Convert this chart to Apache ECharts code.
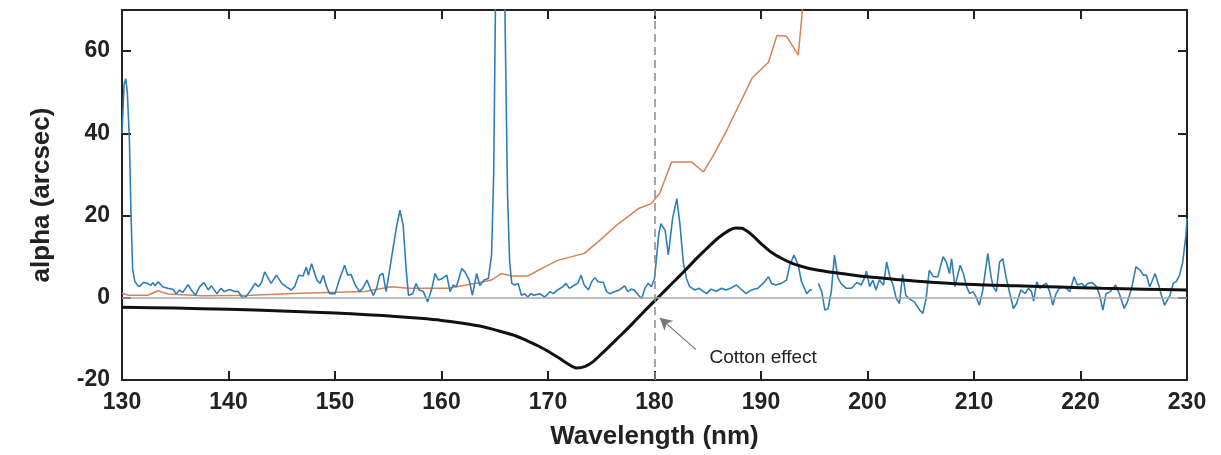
<!DOCTYPE html>
<html>
<head>
<meta charset="utf-8">
<script src="https://cdn.jsdelivr.net/npm/echarts@6/dist/echarts.min.js"></script>
<style>
  html, body { margin: 0; padding: 0; background: #fff; }
  #chart { width: 1221px; height: 455px; }
</style>
</head>
<body>
<div id="chart"></div>
<script>
// measured signal (blue); null = gap in the trace
var measWl = [130.0, 130.2, 130.35, 130.5, 130.7, 130.85, 131.0, 131.2, 131.5, 131.7, 132.0, 132.4, 132.7, 132.9, 133.1, 133.4, 133.8, 134.3, 134.8, 135.1, 135.4, 135.7, 136.2, 136.5, 136.9, 137.3, 137.7, 138.1, 138.4, 138.9, 139.3, 139.6, 140.1, 140.6, 140.9, 141.3, 141.7, 142.1, 142.5, 142.8, 143.1, 143.4, 143.7, 144.0, 144.5, 145.0, 145.4, 145.9, 146.2, 146.6, 147.0, 147.3, 147.5, 147.8, 148.3, 148.6, 148.9, 149.2, 149.5, 150.0, 150.4, 150.9, 151.2, 151.5, 151.9, 152.3, 152.6, 153.0, 153.3, 153.6, 153.9, 154.2, 154.5, 154.8, 155.1, 155.4, 155.8, 156.1, 156.4, 156.7, 156.9, 157.3, 157.6, 157.9, 158.3, 158.7, 159.1, 159.4, 159.7, 160.1, 160.5, 160.8, 161.1, 161.4, 161.9, 162.2, 162.6, 162.9, 163.3, 163.6, 164.0, 164.4, 164.7, 164.9, 165.1, 165.5, 165.9, 166.2, 166.4, 166.6, 166.9, 167.2, 167.5, 167.8, 168.1, 168.4, 168.7, 169.2, 169.7, 170.2, 170.5, 170.9, 171.4, 171.7, 172.0, 172.5, 172.8, 173.1, 173.4, 173.8, 174.1, 174.4, 174.7, 175.2, 175.5, 175.8, 176.3, 176.7, 177.2, 177.5, 177.8, 178.1, 178.5, 178.8, 179.1, 179.4, 179.7, 180.0, 180.2, 180.4, 180.6, 181.0, 181.3, 181.7, 182.1, 182.4, 182.7, 183.0, 183.3, 183.8, 184.2, 184.6, 184.9, 185.3, 185.8, 186.3, 186.7, 187.2, 187.7, 188.2, 188.6, 189.1, 189.7, 190.2, 190.7, 191.0, 191.4, 191.9, 192.4, 192.7, 193.1, 193.5, 193.8, 194.3, 194.6, 194.8, 195.1, 195.4, 195.7, 196.0, 196.3, 196.6, 196.9, 197.2, 197.5, 198.0, 198.5, 199.0, 199.4, 199.7, 199.9, 200.2, 200.5, 200.8, 201.1, 201.5, 201.8, 202.1, 202.4, 202.7, 203.0, 203.3, 203.6, 203.9, 204.4, 204.9, 205.2, 205.5, 205.8, 206.2, 206.6, 207.1, 207.4, 207.7, 207.9, 208.2, 208.7, 209.0, 209.3, 209.6, 209.9, 210.2, 210.5, 210.8, 211.3, 211.6, 211.8, 212.1, 212.4, 212.7, 213.0, 213.4, 213.7, 214.0, 214.4, 214.8, 215.1, 215.4, 215.6, 215.9, 216.2, 216.5, 216.8, 217.1, 217.4, 217.7, 218.0, 218.5, 219.0, 219.4, 219.7, 220.1, 220.4, 220.7, 221.1, 221.5, 221.8, 222.1, 222.4, 222.8, 223.3, 223.7, 224.1, 224.4, 224.8, 225.2, 225.6, 225.9, 226.2, 226.5, 226.7, 227.0, 227.3, 227.6, 227.9, 228.4, 228.7, 229.0, 229.3, 229.6, 229.9, 230.0];
var measAlpha = [40, 52, 53.3, 50, 38, 20, 7, 4, 2.9, 2.8, 3.7, 3.5, 3.0, 3.7, 2.9, 3.9, 2.7, 2.3, 2.0, 1.0, 1.9, 1.3, 3.2, 1.9, 0.6, 2.7, 3.7, 1.9, 2.9, 1.0, 2.3, 1.5, 2.0, 1.5, 1.6, 0, 0.4, 1.9, 3.5, 2.7, 3.7, 6.3, 4.9, 3.5, 5.5, 3.5, 2.7, 1.9, 2.7, 5.5, 5.3, 7.5, 5.5, 8.3, 4.3, 3.5, 5.5, 2.7, 1.0, 1.0, 4.3, 7.9, 5.5, 5.7, 3.1, 1.5, 2.3, 4.3, 2.3, 0.6, 2.3, 5.5, 5.9, 1.5, 6.3, 11.2, 17.6, 21.3, 17.6, 6.3, 0.6, 1.0, 3.5, 1.9, 1.5, -1.0, 2.3, 5.9, 4.3, 4.7, 5.5, 1.5, 3.1, 2.7, 7.1, 6.3, 4.3, 0.6, 5.9, 3.0, 4.3, 4.7, 10.4, 30, 80, 130, 80, 25, 8.7, 3.5, 3.1, 3.5, 0.6, 1.0, 0.2, 1.0, 0.6, 1.0, 0.2, 1.5, 1.0, 1.9, 2.7, 3.5, 2.3, 3.1, 3.5, 5.5, 3.1, 1.9, 3.9, 4.9, 3.9, 3.7, 1.5, 1.0, 1.5, 1.9, 2.9, 1.5, 2.1, 1.9, 0.6, -0.2, 2.3, 3.5, 2.7, 4.7, 10, 15.5, 18, 16.4, 10.4, 19.3, 24.1, 17.6, 8.7, 4.7, 2.7, 1.9, 2.3, 1.5, 1.0, 2.1, 1.6, 2.3, 1.9, 2.4, 3.1, 1.9, 1.0, 1.9, 2.3, 3.5, 5.1, 3.5, 3.1, 3.5, 4.3, 7.9, 10.4, 7.9, 3.9, 1.0, 1.9, 1.9, null, 3.5, 1.5, -3.0, -2.6, 1.5, 10.4, 5.0, 3.5, 2.3, 2.3, 3.7, 3.1, 4.7, 6.5, 2.7, 4.3, 1.9, 4.3, 3.1, 8.7, 5.1, 3.1, -0.2, -1.4, 5.7, 0.6, -0.2, -1.0, -3.0, -3.8, -0.2, 6.7, 5.1, 5.1, 10.0, 8.7, 5.9, 9.5, 2.7, 7.9, 5.9, 2.7, 1.0, 1.5, 0.2, -1.8, 1.5, 10.8, 5.1, 2.7, 1.5, 8.7, 9.5, 5.1, 0.6, -2.6, -1.4, 1.9, 1.0, 2.3, 1.5, -0.8, 3.9, 2.3, 3.1, 3.5, 1.5, -1.8, 1.0, 2.3, 2.7, 1.5, 5.1, 3.1, 3.5, 2.7, 3.5, 3.7, 2.7, 0.6, -3.0, 1.0, 1.5, 3.1, 0.6, -2.6, -1.0, 2.3, 7.5, 6.7, 5.5, 5.5, 2.7, 3.9, 5.9, 3.5, 0.6, -1.8, 0.6, 3.5, 4.0, 5.5, 8.7, 15.2, 19.3];

// orange trace
var orangeWl = [130.0, 130.6, 132.4, 133.4, 134.3, 137.5, 142.1, 146.7, 152.8, 155.3, 156.9, 160.6, 163.6, 164.7, 165.6, 166.6, 168.1, 169.7, 170.9, 173.4, 174.7, 176.6, 178.5, 179.7, 180.5, 181.6, 183.5, 184.6, 185.5, 186.8, 189.2, 190.7, 191.5, 192.4, 193.5, 194.6];
var orangeAlpha = [1.1, 0.6, 0.6, 1.7, 0.9, 0.5, 0.6, 1.1, 1.5, 2.7, 2.3, 2.3, 3.7, 4.3, 5.9, 5.3, 5.3, 7.5, 9.1, 10.8, 13.6, 18, 21.7, 22.9, 25.5, 33, 33, 30.6, 34.5, 40.8, 53.6, 57.3, 63.8, 63.6, 59, 90];

// model curve (black)
var modelWl = [130, 135, 140, 145, 150, 153, 156, 158, 160, 162, 164, 165, 166, 167, 168, 169, 170, 171, 172, 172.7, 173.5, 174.2, 175, 176, 177, 178, 179, 180, 181, 182, 183, 184, 185, 186, 187, 187.6, 188.2, 189, 190, 191, 192, 193, 194, 195, 197, 200, 203, 206, 210, 214, 218, 222, 226, 230];
var modelAlpha = [-2.3, -2.5, -2.8, -3.2, -3.7, -4.1, -4.6, -5.0, -5.5, -6.2, -7.1, -7.8, -8.5, -9.3, -10.4, -11.6, -13.0, -14.6, -16.3, -17.1, -16.7, -15.6, -13.7, -11.2, -8.7, -6.1, -3.4, -0.8, 1.8, 4.4, 7.0, 9.7, 12.2, 14.6, 16.4, 17.0, 16.9, 15.6, 13.2, 11.0, 9.5, 8.3, 7.5, 6.9, 6.1, 5.1, 4.4, 3.8, 3.2, 2.9, 2.6, 2.3, 2.1, 1.9];

var xTicks = [130, 140, 150, 160, 170, 180, 190, 200, 210, 220, 230];
var yTicks = [-20, 0, 20, 40, 60];

function pairs(xs, ys) {
    return xs.map(function (x, i) {
        return [x, ys[i] === null ? '-' : ys[i]];
    });
}

var myChart = echarts.init(document.getElementById('chart'));

var labelFont = {
    fontFamily: 'Liberation Sans, Arial, sans-serif',
    fontWeight: 'bold',
    fontSize: 23,
    color: '#222'
};
var nameFont = {
    fontFamily: 'Liberation Sans, Arial, sans-serif',
    fontWeight: 'bold',
    fontSize: 26,
    color: '#222'
};

var option = {
    backgroundColor: '#fff',
    animation: false,
    grid: { left: 122, right: 34, top: 10, bottom: 75 },
    xAxis: [{
        type: 'value',
        min: xTicks[0],
        max: xTicks[xTicks.length - 1],
        interval: 10,
        name: 'Wavelength (nm)',
        nameLocation: 'middle',
        nameGap: 44,
        nameTextStyle: nameFont,
        axisLine: { onZero: false, lineStyle: { color: '#222', width: 2 } },
        axisTick: { inside: true, length: 9, lineStyle: { color: '#222', width: 2 } },
        axisLabel: Object.assign({ margin: 11 }, labelFont),
        splitLine: { show: false }
    }, {
        type: 'value',
        position: 'top',
        min: xTicks[0],
        max: xTicks[xTicks.length - 1],
        interval: 10,
        axisLine: { onZero: false, lineStyle: { color: '#222', width: 2 } },
        axisTick: { inside: true, length: 9, lineStyle: { color: '#222', width: 2 } },
        axisLabel: { show: false },
        splitLine: { show: false }
    }],
    yAxis: [{
        type: 'value',
        min: yTicks[0],
        max: 70,
        interval: 20,
        name: 'alpha (arcsec)',
        nameLocation: 'middle',
        nameGap: 67,
        nameRotate: 90,
        nameTextStyle: nameFont,
        axisLine: { show: true, onZero: false, lineStyle: { color: '#222', width: 2 } },
        axisTick: { show: true, inside: true, length: 9, lineStyle: { color: '#222', width: 2 } },
        axisLabel: Object.assign({ margin: 12, showMaxLabel: false }, labelFont),
        splitLine: { show: false }
    }, {
        type: 'value',
        position: 'right',
        min: yTicks[0],
        max: 70,
        interval: 20,
        axisLine: { show: true, onZero: false, lineStyle: { color: '#222', width: 2 } },
        axisTick: { show: true, inside: true, length: 9, lineStyle: { color: '#222', width: 2 } },
        axisLabel: { show: false },
        splitLine: { show: false }
    }],
    series: [{
        name: 'orange',
        type: 'line',
        data: pairs(orangeWl, orangeAlpha),
        showSymbol: false,
        clip: true,
        lineStyle: { color: '#d4825a', width: 1.5 },
        z: 2,
        markLine: {
            silent: true,
            symbol: 'none',
            label: { show: false },
            data: [
                { yAxis: 0, lineStyle: { color: '#a8a8a8', width: 1.5, type: 'solid' } },
                { xAxis: 180, lineStyle: { color: '#8a8a8a', width: 1.5, type: [8, 5] } }
            ]
        }
    }, {
        name: 'measured',
        type: 'line',
        data: pairs(measWl, measAlpha),
        showSymbol: false,
        connectNulls: false,
        clip: true,
        lineStyle: { color: '#2f7fb6', width: 1.6 },
        z: 3
    }, {
        name: 'model',
        type: 'line',
        data: pairs(modelWl, modelAlpha),
        smooth: 0.3,
        showSymbol: false,
        clip: true,
        lineStyle: { color: '#111', width: 3 },
        z: 4,
        markLine: {
            silent: true,
            symbol: ['none', 'arrow'],
            symbolSize: [10, 12],
            lineStyle: { color: '#777', width: 1.2, type: 'solid' },
            label: { show: false },
            data: [[{ coord: [183.9, -12.6] }, { coord: [180.5, -4.9] }]]
        },
        markPoint: {
            silent: true,
            symbol: 'circle',
            symbolSize: 0,
            label: {
                show: true,
                formatter: 'Cotton effect',
                fontFamily: 'Liberation Sans, Arial, sans-serif',
                fontSize: 19,
                color: '#222'
            },
            data: [{ coord: [190.2, -14.6] }]
        }
    }]
};

myChart.setOption(option);
</script>
</body>
</html>
